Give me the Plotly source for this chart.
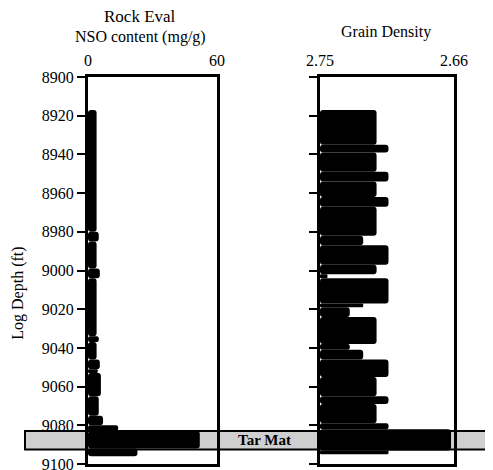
import plotly.graph_objects as go

# ---------------- data ----------------
depth_ticks = [8900, 8920, 8940, 8960, 8980, 9000, 9020, 9040, 9060, 9080, 9100]

# Rock Eval NSO content (mg/g): depth intervals and values
nso_top    = [8917, 8980, 8985, 8999, 9004, 9034, 9037, 9046, 9051, 9053, 9065, 9075, 9080, 9083, 9092]
nso_bottom = [8980, 8985, 8999, 9004, 9034, 9037, 9046, 9051, 9053, 9065, 9075, 9080, 9083, 9092, 9096]
nso_value  = [4.0,  5.0,  4.0,  5.5,  4.0,  5.0,  4.0,  5.5,  4.5,  6.0,  5.0,  7.0,  14.0, 52.0, 23.0]

# Grain density (g/cc): depth intervals and values
gd_top    = [8917, 8935, 8939, 8949, 8954, 8962, 8967, 8982, 8987, 8997, 9002, 9004,
             9017, 9019, 9024, 9038, 9041, 9046, 9055, 9065, 9069, 9079, 9082, 9093]
gd_bottom = [8935, 8939, 8949, 8954, 8962, 8967, 8982, 8987, 8997, 9002, 9004, 9017,
             9019, 9024, 9038, 9041, 9046, 9055, 9065, 9069, 9079, 9082, 9093, 9095]
gd_value  = [2.712, 2.704, 2.712, 2.704, 2.712, 2.704, 2.712, 2.721, 2.704, 2.712, 2.745, 2.704,
             2.721, 2.730, 2.712, 2.730, 2.721, 2.704, 2.712, 2.704, 2.712, 2.704, 2.662, 2.704]

nso_range = [0, 60]
gd_range = [2.75, 2.66]
depth_range = [9100, 8900]
tar_top, tar_bottom = 9083, 9092.5

# ---------------- layout helpers ----------------
OFF = 8                      # default body margin of the html page
W, H = 493 - OFF, 470 - OFF  # figure size so it fits in the window
FONT = "Liberation Serif"


def px(x):
    return (x - OFF) / W


def py(y):
    return 1 - (y - OFF) / H


y_dom = [py(464), py(77)]


def depth_to_paper(d):
    return y_dom[0] + (depth_range[0] - d) / (depth_range[0] - depth_range[1]) * (y_dom[1] - y_dom[0])


fig = go.Figure()

fig.add_trace(go.Bar(
    orientation="h",
    y=[(t + b) / 2 for t, b in zip(nso_top, nso_bottom)],
    width=[b - t for t, b in zip(nso_top, nso_bottom)],
    x=nso_value,
    base=0,
    marker=dict(color="black", line=dict(width=0), cornerradius=3),
    xaxis="x", yaxis="y", showlegend=False,
))

fig.add_trace(go.Bar(
    orientation="h",
    y=[(t + b) / 2 for t, b in zip(gd_top, gd_bottom)],
    width=[b - t for t, b in zip(gd_top, gd_bottom)],
    x=[v - gd_range[0] for v in gd_value],
    base=gd_range[0],
    marker=dict(color="black", line=dict(width=0), cornerradius=3),
    xaxis="x2", yaxis="y2", showlegend=False,
))

axis_font = dict(family=FONT, size=16, color="black")

common_x = dict(side="top", ticks="", showline=True, linewidth=3, linecolor="black",
                mirror=True, showgrid=False, zeroline=False, tickfont=axis_font,
                ticklabelstandoff=2, automargin=False)
common_y = dict(range=depth_range, tickvals=depth_ticks, ticks="outside", ticklen=8,
                tickwidth=2, tickcolor="black", showline=True, linewidth=3,
                linecolor="black", mirror=True, showgrid=False, zeroline=False,
                domain=y_dom, automargin=False, ticklabeloverflow="allow")

fig.update_layout(
    width=W, height=H,
    margin=dict(l=0, r=0, t=0, b=0),
    paper_bgcolor="white",
    plot_bgcolor="rgba(0,0,0,0)",
    barmode="overlay",
    xaxis=dict(domain=[px(88), px(217)], range=nso_range, tickvals=nso_range,
               anchor="y", **common_x),
    yaxis=dict(anchor="x", tickfont=axis_font, **common_y),
    xaxis2=dict(domain=[px(320), px(454)], range=gd_range, tickvals=gd_range,
                ticktext=["2.75", "2.66"], anchor="y2", **common_x),
    yaxis2=dict(anchor="x2", matches="y", showticklabels=False, **common_y),
    font=dict(family=FONT, color="black"),
)

# Tar mat band
fig.add_shape(type="rect", xref="paper", yref="paper", layer="below",
              x0=px(25), x1=px(492), y0=depth_to_paper(tar_bottom), y1=depth_to_paper(tar_top),
              fillcolor="#cfcfcf", line=dict(color="black", width=2))

annos = [
    dict(text="Rock Eval", x=px(140), y=py(17), size=17),
    dict(text="NSO content (mg/g)", x=px(140), y=py(37), size=16),
    dict(text="Grain Density", x=px(386), y=py(32), size=16),
]
for a in annos:
    fig.add_annotation(text=a["text"], x=a["x"], y=a["y"], xref="paper", yref="paper",
                       showarrow=False, xanchor="center", yanchor="middle",
                       font=dict(family=FONT, size=a["size"], color="black"))

fig.add_annotation(text="<b>Tar Mat</b>", x=px(264), y=depth_to_paper((tar_top + tar_bottom) / 2),
                   xref="paper", yref="paper", showarrow=False, yanchor="middle",
                   font=dict(family=FONT, size=15, color="black"))

fig.add_annotation(text="Log Depth (ft)", x=px(18), y=depth_to_paper(9012),
                   xref="paper", yref="paper", showarrow=False, textangle=-90,
                   xanchor="center", yanchor="middle",
                   font=dict(family=FONT, size=16, color="black"))

fig.write_html("out.html")
